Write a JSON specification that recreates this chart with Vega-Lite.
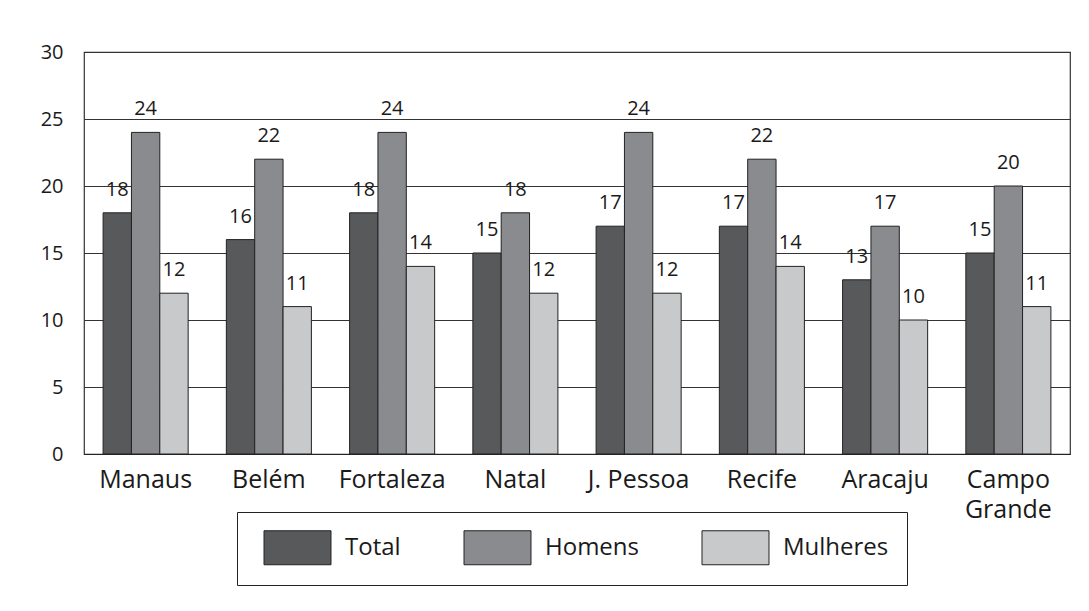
{
  "$schema": "https://vega.github.io/schema/vega-lite/v6.json",
  "width": 986,
  "height": 402,
  "padding": {"left": 6, "top": 42, "right": 13, "bottom": 5},
  "background": "white",
  "config": {
    "font": "Open Sans",
    "view": {"stroke": "#333333", "strokeWidth": 1.2},
    "axis": {"labelColor": "#1a1a1a", "labelFont": "Open Sans"},
    "legend": {"labelFont": "Open Sans"}
  },
  "data": {
    "values": [
      {"cidade": "Manaus", "grupo": "Total", "valor": 18},
      {"cidade": "Manaus", "grupo": "Homens", "valor": 24},
      {"cidade": "Manaus", "grupo": "Mulheres", "valor": 12},
      {"cidade": "Belém", "grupo": "Total", "valor": 16},
      {"cidade": "Belém", "grupo": "Homens", "valor": 22},
      {"cidade": "Belém", "grupo": "Mulheres", "valor": 11},
      {"cidade": "Fortaleza", "grupo": "Total", "valor": 18},
      {"cidade": "Fortaleza", "grupo": "Homens", "valor": 24},
      {"cidade": "Fortaleza", "grupo": "Mulheres", "valor": 14},
      {"cidade": "Natal", "grupo": "Total", "valor": 15},
      {"cidade": "Natal", "grupo": "Homens", "valor": 18},
      {"cidade": "Natal", "grupo": "Mulheres", "valor": 12},
      {"cidade": "J. Pessoa", "grupo": "Total", "valor": 17},
      {"cidade": "J. Pessoa", "grupo": "Homens", "valor": 24},
      {"cidade": "J. Pessoa", "grupo": "Mulheres", "valor": 12},
      {"cidade": "Recife", "grupo": "Total", "valor": 17},
      {"cidade": "Recife", "grupo": "Homens", "valor": 22},
      {"cidade": "Recife", "grupo": "Mulheres", "valor": 14},
      {"cidade": "Aracaju", "grupo": "Total", "valor": 13},
      {"cidade": "Aracaju", "grupo": "Homens", "valor": 17},
      {"cidade": "Aracaju", "grupo": "Mulheres", "valor": 10},
      {"cidade": "Campo Grande", "grupo": "Total", "valor": 15},
      {"cidade": "Campo Grande", "grupo": "Homens", "valor": 20},
      {"cidade": "Campo Grande", "grupo": "Mulheres", "valor": 11}
    ]
  },
  "encoding": {
    "x": {
      "field": "cidade",
      "type": "nominal",
      "sort": null,
      "scale": {"paddingInner": 0.31, "paddingOuter": 0.155},
      "axis": {
        "title": null,
        "labelAngle": 0,
        "ticks": false,
        "domainColor": "#222222",
        "domainWidth": 1.2,
        "labelFontSize": 25,
        "labelPadding": 13,
        "labelLineHeight": 30,
        "labelExpr": "datum.label == 'Campo Grande' ? ['Campo', 'Grande'] : datum.label"
      }
    },
    "xOffset": {
      "field": "grupo",
      "type": "nominal",
      "sort": ["Total", "Homens", "Mulheres"],
      "scale": {"paddingInner": 0, "paddingOuter": 0}
    },
    "y": {
      "field": "valor",
      "type": "quantitative",
      "scale": {"domain": [0, 30], "nice": false},
      "axis": {
        "title": null,
        "values": [0, 5, 10, 15, 20, 25, 30],
        "grid": true,
        "gridColor": "#333333",
        "gridWidth": 1,
        "domain": false,
        "ticks": false,
        "labelFontSize": 20,
        "labelPadding": 21,
        "minExtent": 78,
        "maxExtent": 78
      }
    }
  },
  "layer": [
    {
      "mark": {"type": "bar", "stroke": "#222222", "strokeWidth": 1},
      "encoding": {
        "color": {
          "field": "grupo",
          "type": "nominal",
          "sort": ["Total", "Homens", "Mulheres"],
          "scale": {"domain": ["Total", "Homens", "Mulheres"], "range": ["#58595b", "#8a8b8e", "#c8c9cb"]},
          "legend": {
            "title": null,
            "orient": "none",
            "legendX": 153,
            "legendY": 460,
            "direction": "horizontal",
            "strokeColor": "#222222",
            "padding": 18,
            "symbolType": "M-1.97,-1H1.97V1H-1.97Z",
            "symbolSize": 1156,
            "symbolStrokeColor": "#222222",
            "symbolStrokeWidth": 1,
            "symbolOffset": 25,
            "labelFontSize": 24,
            "labelColor": "#1a1a1a",
            "labelOffset": 30,
            "columnPadding": 54
          }
        }
      }
    },
    {
      "mark": {"type": "text", "baseline": "bottom", "dy": -13, "fontSize": 20, "color": "#1a1a1a"},
      "encoding": {
        "text": {"field": "valor", "type": "quantitative"}
      }
    }
  ]
}
